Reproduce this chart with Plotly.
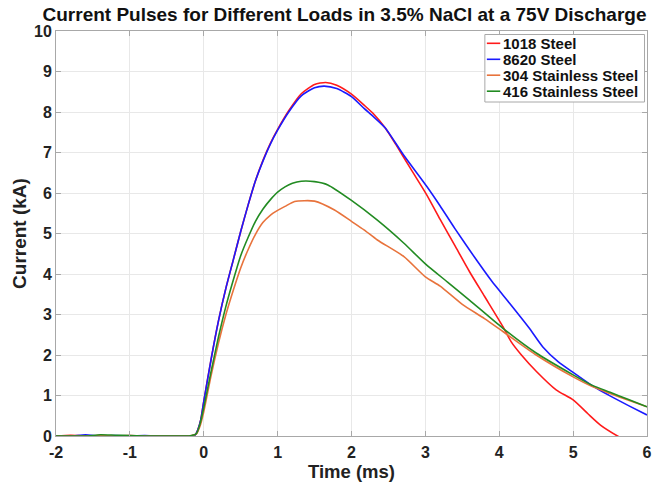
import plotly.graph_objects as go

# 1018 Steel
red_x = [-2.0, -1.8, -1.6, -1.4, -1.2, -1.0, -0.8, -0.6, -0.4, -0.2, -0.12, -0.08, -0.04, 0.0, 0.1, 0.2, 0.3, 0.4, 0.5, 0.6, 0.7, 0.8, 0.9, 1.0, 1.15, 1.32, 1.5, 1.65, 1.8, 2.0, 2.17, 2.3, 2.46, 2.6, 2.8, 3.02, 3.2, 3.4, 3.6, 3.8, 4.05, 4.16, 4.3, 4.5, 4.77, 5.0, 5.2, 5.37, 5.6, 5.7]
red_y = [0.0, 0.02, 0.0, 0.01, 0.0, 0.01, 0.0, 0.0, 0.0, 0.0, 0.02, 0.15, 0.4, 0.85, 1.9, 2.85, 3.65, 4.35, 5.05, 5.7, 6.3, 6.8, 7.22, 7.57, 8.03, 8.45, 8.68, 8.73, 8.66, 8.44, 8.17, 7.95, 7.6, 7.2, 6.6, 5.95, 5.35, 4.7, 4.05, 3.45, 2.7, 2.33, 2.0, 1.6, 1.14, 0.89, 0.55, 0.27, 0.0, -0.1]

# 8620 Steel
blue_x = [-2.0, -1.8, -1.6, -1.4, -1.2, -1.0, -0.8, -0.6, -0.4, -0.2, -0.12, -0.08, -0.04, 0.0, 0.1, 0.2, 0.3, 0.4, 0.5, 0.6, 0.7, 0.8, 0.9, 1.0, 1.15, 1.32, 1.5, 1.63, 1.8, 2.0, 2.17, 2.3, 2.46, 2.7, 3.02, 3.2, 3.4, 3.69, 3.9, 4.14, 4.4, 4.59, 4.8, 5.0, 5.26, 5.5, 5.75, 6.0]
blue_y = [0.0, 0.0, 0.03, 0.0, 0.01, 0.0, 0.01, 0.0, 0.0, 0.0, 0.02, 0.15, 0.4, 0.85, 1.9, 2.85, 3.65, 4.35, 5.05, 5.7, 6.3, 6.78, 7.2, 7.55, 8.0, 8.4, 8.6, 8.64, 8.58, 8.38, 8.09, 7.88, 7.6, 6.95, 6.16, 5.68, 5.12, 4.35, 3.82, 3.28, 2.68, 2.2, 1.83, 1.57, 1.24, 0.99, 0.75, 0.52]

# 304 Stainless Steel
orange_x = [-2.0, -1.8, -1.6, -1.4, -1.2, -1.0, -0.8, -0.6, -0.4, -0.2, -0.1, -0.05, 0.0, 0.1, 0.2, 0.3, 0.4, 0.5, 0.6, 0.7, 0.8, 0.9, 1.0, 1.1, 1.23, 1.5, 1.77, 2.0, 2.17, 2.35, 2.71, 3.0, 3.2, 3.5, 3.8, 4.05, 4.5, 5.0, 5.26, 5.5, 5.75, 6.0]
orange_y = [0.0, 0.0, 0.0, 0.01, 0.0, 0.0, 0.0, 0.0, 0.0, 0.0, 0.05, 0.25, 0.6, 1.5, 2.3, 3.0, 3.6, 4.15, 4.6, 4.98, 5.27, 5.45, 5.57, 5.67, 5.79, 5.8, 5.58, 5.3, 5.09, 4.84, 4.43, 3.93, 3.7, 3.25, 2.9, 2.58, 2.0, 1.46, 1.22, 1.05, 0.88, 0.72]

# 416 Stainless Steel
green_x = [-2.0, -1.8, -1.6, -1.4, -1.2, -1.0, -0.8, -0.6, -0.4, -0.2, -0.1, -0.05, 0.0, 0.1, 0.2, 0.3, 0.4, 0.5, 0.6, 0.7, 0.8, 0.9, 1.0, 1.1, 1.2, 1.32, 1.5, 1.68, 1.99, 2.35, 2.71, 3.0, 3.3, 3.6, 4.05, 4.5, 5.0, 5.26, 5.5, 5.75, 6.0]
green_y = [0.0, 0.0, 0.0, 0.03, 0.02, 0.01, 0.0, 0.0, 0.0, 0.0, 0.06, 0.3, 0.7, 1.6, 2.45, 3.2, 3.85, 4.45, 4.9, 5.3, 5.6, 5.83, 6.02, 6.15, 6.24, 6.29, 6.28, 6.2, 5.83, 5.33, 4.76, 4.25, 3.8, 3.35, 2.66, 2.05, 1.51, 1.25, 1.08, 0.9, 0.72]

series_names = ["1018 Steel", "8620 Steel", "304 Stainless Steel", "416 Stainless Steel"]
series_colors = ["#ff1a1a", "#1a1aff", "#e8733c", "#228b22"]

x_ticks = [-2, -1, 0, 1, 2, 3, 4, 5, 6]
x_tick_text = ["-2", "-1", "0", "1", "2", "3", "4", "5", "6"]
y_ticks = [0, 1, 2, 3, 4, 5, 6, 7, 8, 9, 10]

W, H = 657, 483
L, R, T, B = 56, 5, 31, 47
PW, PH = W - L - R, H - T - B


def px_x(px):
    return (px - L) / PW


def px_y(py):
    return (H - B - py) / PH


data = [(red_x, red_y), (blue_x, blue_y), (orange_x, orange_y), (green_x, green_y)]

fig = go.Figure()
for name, (xs, ys), col in zip(series_names, data, series_colors):
    fig.add_trace(go.Scatter(x=xs, y=ys, mode="lines", name=name, showlegend=False,
                             line=dict(color=col, width=1.6, shape="spline", smoothing=0.6)))

font_family = "Liberation Sans, Arial, sans-serif"
axis_common = dict(
    showgrid=True, gridcolor="#e8e8e8", gridwidth=1,
    showline=True, linecolor="#a8a8a8", linewidth=1, mirror="ticks",
    ticks="inside", ticklen=5, tickcolor="#a8a8a8",
    tickfont=dict(family=font_family, size=16, color="#222222", weight="bold"),
    zeroline=False,
)

# custom compact legend (MATLAB style)
shapes = [dict(type="rect", xref="paper", yref="paper",
               x0=px_x(488.5), x1=px_x(649.5), y0=px_y(102), y1=px_y(34.5),
               line=dict(color="#a8a8a8", width=1), fillcolor="white", layer="above")]
annotations = []
row_y = [43.3, 59.3, 75.2, 91.2]
for name, col, ry in zip(series_names, series_colors, row_y):
    shapes.append(dict(type="line", xref="paper", yref="paper",
                       x0=px_x(490.5), x1=px_x(504), y0=px_y(ry), y1=px_y(ry),
                       line=dict(color=col, width=1.6), layer="above"))
    annotations.append(dict(text="<b>%s</b>" % name, xref="paper", yref="paper",
                            x=px_x(504.5), y=px_y(ry), xanchor="left", yanchor="middle",
                            showarrow=False, align="left",
                            font=dict(family=font_family, size=15, color="#111111")))

fig.update_layout(
    width=W, height=H,
    margin=dict(l=L, r=R, t=T, b=B),
    paper_bgcolor="white", plot_bgcolor="white",
    title=dict(text="<b>Current Pulses for Different Loads in 3.5% NaCl at a 75V Discharge</b>",
               xref="container", x=344.5 / W, xanchor="center",
               yref="container", y=1 - 14.5 / H, yanchor="middle",
               font=dict(family=font_family, size=19, color="#111111")),
    xaxis=dict(range=[-2, 6], tickvals=x_ticks, ticktext=x_tick_text, ticklabelstandoff=2,
               title=dict(text="<b>Time (ms)</b>", font=dict(family=font_family, size=18.5, color="#222222"), standoff=2),
               **axis_common),
    yaxis=dict(range=[0, 10], tickvals=y_ticks, ticklabelstandoff=0,
               title=dict(text="<b>Current (kA)</b>", font=dict(family=font_family, size=19, color="#222222"), standoff=2),
               **axis_common),
    shapes=shapes,
    annotations=annotations,
    showlegend=False,
)

fig.write_html("out.html")
